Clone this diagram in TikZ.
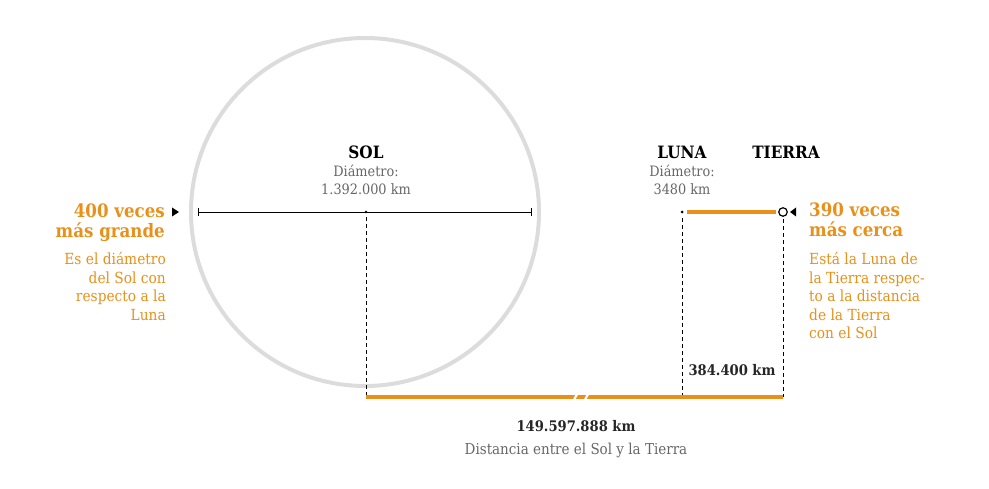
\documentclass[tikz,border=0pt]{standalone}
\usepackage{fontspec}
\setmainfont{DejaVu Serif Condensed}
\definecolor{orng}{HTML}{E8901A}
\definecolor{gtxt}{HTML}{666666}
\definecolor{ring}{HTML}{DCDCDC}
\begin{document}
\begin{tikzpicture}[x=1pt,y=-1pt,
  title/.style={font=\fontsize{17}{18}\selectfont\bfseries, text=black, inner sep=0, anchor=base},
  sub/.style={font=\fontsize{14.3}{18}\selectfont, text=gtxt, align=center, inner sep=0, anchor=base},
  bigo/.style={font=\fontsize{18.5}{20}\selectfont\bfseries, text=orng, inner sep=0},
  bodyo/.style={font=\fontsize{15.3}{18.5}\selectfont, text=orng, inner sep=0},
  num/.style={font=\fontsize{14.6}{16}\selectfont\bfseries, text=black!85, inner sep=0, anchor=base},
  vdash/.style={black, dashed, dash pattern=on 4pt off 3pt, line width=0.8pt},
  obar/.style={orng, line width=4.5pt},
]
\useasboundingbox (0,0) rectangle (989,489);
% sun
\draw[ring, line width=4pt] (365,212) circle (174);
\coordinate (dl) at (198,212);
\coordinate (dr) at (531,212);
\coordinate (sc) at (366,212);
\draw[black, line width=0.8pt] (dl) -- (dr);
\draw[black, line width=0.8pt] (dl) ++(0,-4) -- ++(0,8);
\draw[black, line width=0.8pt] (dr) ++(0,-4) -- ++(0,8);
\fill[black] (sc) circle (1.3);
\node[title] (sol) at (366,159) {SOL};
\node[sub] (solsub) at (366,195) {Diámetro:\\1.392.000 km};
% left texts
\node[bigo, anchor=base east, align=right] (l400) at (165,238) {400 veces\\más grande};
\node[bodyo, anchor=base east, align=right] (lbody) at (166,320.5) {Es el diámetro\\del Sol con\\respecto a la\\Luna};
\fill[black] (172,207.5) -- (179,212) -- (172,216.5) -- cycle;
% moon/earth
\node[title] (luna) at (682,159) {LUNA};
\node[sub] (lunasub) at (682,195) {Diámetro:\\3480 km};
\node[title] (tierra) at (786,159) {TIERRA};
\coordinate (moon) at (682,212);
\node[circle, draw=black, line width=1.2pt, minimum size=8.5pt, inner sep=0] (earth) at (783,212) {};
\fill[black] (moon) circle (1.5);
\draw[obar] (687,212) -- (776,212);
\fill[black] (796,207.5) -- (790,212) -- (796,216.5) -- cycle;
\node[bigo, anchor=base west, align=left] (r390) at (809,237) {390 veces\\más cerca};
\node[bodyo, anchor=base west, align=left] (rbody) at (809,339) {Está la Luna de\\la Tierra respec-\\to a la distancia\\de la Tierra\\con el Sol};
% bottom
\coordinate (bs) at (366,397);
\coordinate (bm) at (682,397);
\coordinate (be) at (783,397);
\draw[vdash] (sc) ++(0,5) -- (bs);
\draw[vdash] (moon) ++(0,6) -- (bm);
\draw[vdash] (earth.south) ++(0,2) -- (be);
\draw[obar] (bs) -- (be);
\draw[white, line width=2.2pt] (571,405) -- (580,389);
\draw[white, line width=2.2pt] (582,405) -- (591,389);
\node[num] (d384) at (732,376) {384.400 km};
\node[num] (d149) at (576,431) {149.597.888 km};
\node[sub, font=\fontsize{15}{18}\selectfont] (dist) at (576,454) {Distancia entre el Sol y la Tierra};
\end{tikzpicture}
\end{document}
